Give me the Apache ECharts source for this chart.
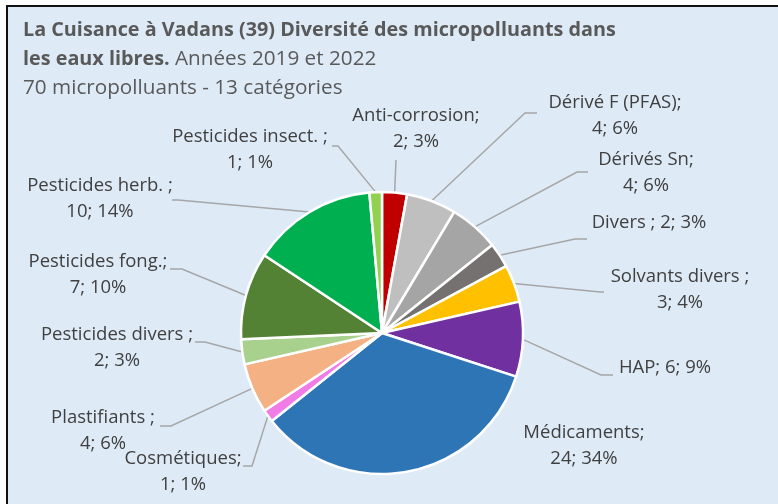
<!DOCTYPE html>
<html><head><meta charset="utf-8">
<script src="https://cdn.jsdelivr.net/npm/echarts@6/dist/echarts.min.js"></script>
<style>
html,body{margin:0;padding:0;background:#fff;overflow:hidden}
#bg{position:absolute;left:6px;top:5px;width:800px;height:600px;border-left:2px solid #111;border-top:2px solid #111;background:#DEEBF7}
#c{position:absolute;left:0;top:0;width:778px;height:504px}
</style>
</head><body><div id="bg"></div><div id="c"></div>
<script>
// Data (clockwise from 12 o'clock)
const categories = ["Anti-corrosion", "Dérivé F (PFAS)", "Dérivés Sn", "Divers ", "Solvants divers ", "HAP", "Médicaments", "Cosmétiques", "Plastifiants ", "Pesticides divers ", "Pesticides fong.", "Pesticides herb. ", "Pesticides insect. "];
const counts = [2, 4, 4, 2, 3, 6, 24, 1, 4, 2, 7, 10, 1];
const titleLine1 = "La Cuisance à Vadans (39) Diversité des micropolluants dans";
const titleLine2Bold = "les eaux libres.";
const titleLine2 = " Années 2019 et 2022";
const subtitle = "70 micropolluants - 13 catégories";

// Styles / layout (kept separate from data)
const colors = ["#C00000", "#BFBFBF", "#A5A5A5", "#767171", "#FFC000", "#7030A0", "#2E75B6", "#F27CE6", "#F4B183", "#A9D18E", "#548235", "#00B050", "#92D050"];
const oneLine = [false, false, false, true, false, true, false, false, false, false, false, false, false];
const labelLayouts = [
  {x: 416, y: 129, end: [396, 160], elbow: [396, 160]},
  {x: 615, y: 116, end: [537, 113], elbow: [525, 113]},
  {x: 646, y: 173, end: [588, 172], elbow: [577, 172]},
  {x: 649, y: 223, end: [587, 239], elbow: [575, 239]},
  {x: 680, y: 290, end: [604, 292], elbow: [600, 292]},
  {x: 665, y: 368, end: [613, 375], elbow: [601, 375]},
  {x: 584, y: 446, end: null},
  {x: 183, y: 472, end: [243, 466], elbow: [252, 466]},
  {x: 103, y: 431, end: [160, 426], elbow: [171, 426]},
  {x: 117, y: 348, end: [195, 342], elbow: [205, 342]},
  {x: 98, y: 275, end: [170, 269], elbow: [182, 269]},
  {x: 100, y: 199, end: [172, 200], elbow: [178, 200]},
  {x: 250, y: 150, end: [332, 146], elbow: [338, 146]}
];

const total = counts.reduce((a, b) => a + b, 0);
const FONT = 'Open Sans';

const chart = echarts.init(document.getElementById('c'), null, {renderer: 'canvas'});
chart.setOption({
  animation: false,
  title: {
    left: 18, top: 11,
    text: '{b|' + titleLine1 + '}\n{b|' + titleLine2Bold + '}{n|' + titleLine2 + '}\n{n|' + subtitle + '}',
    textStyle: {
      rich: {
        b: {fontFamily: FONT, fontWeight: 'bold', fontSize: 19.8, color: '#595959', lineHeight: 29},
        n: {fontFamily: FONT, fontWeight: 'normal', fontSize: 20.7, color: '#595959', lineHeight: 29}
      }
    }
  },
  series: [{
    type: 'pie',
    center: [382, 333],
    radius: 141,
    startAngle: 90,
    clockwise: true,
    avoidLabelOverlap: false,
    itemStyle: {borderColor: '#fff', borderWidth: 2.5},
    label: {
      show: true, position: 'outside',
      color: '#404040', fontFamily: FONT, fontSize: 18.5, lineHeight: 26, align: 'center',
      formatter: p => p.name + ';' + (oneLine[p.dataIndex] ? ' ' : '\n') + p.value + '; ' + Math.round(p.value / total * 100) + '%'
    },
    labelLine: {show: true, length: 10, length2: 10, lineStyle: {color: '#A6A6A6', width: 1.5}},
    labelLayout: function (params) {
      const L = labelLayouts[params.dataIndex];
      const res = {x: L.x, y: L.y, align: 'center', verticalAlign: 'middle'};
      if (L.end && params.labelLinePoints) {
        res.labelLinePoints = [params.labelLinePoints[0], L.elbow, L.end];
      }
      return res;
    },
    emphasis: {disabled: true},
    data: categories.map((c, i) => ({
      name: c, value: counts[i],
      itemStyle: {color: colors[i]},
      labelLine: {show: !!labelLayouts[i].end}
    }))
  }]
});
</script>
</body></html>
